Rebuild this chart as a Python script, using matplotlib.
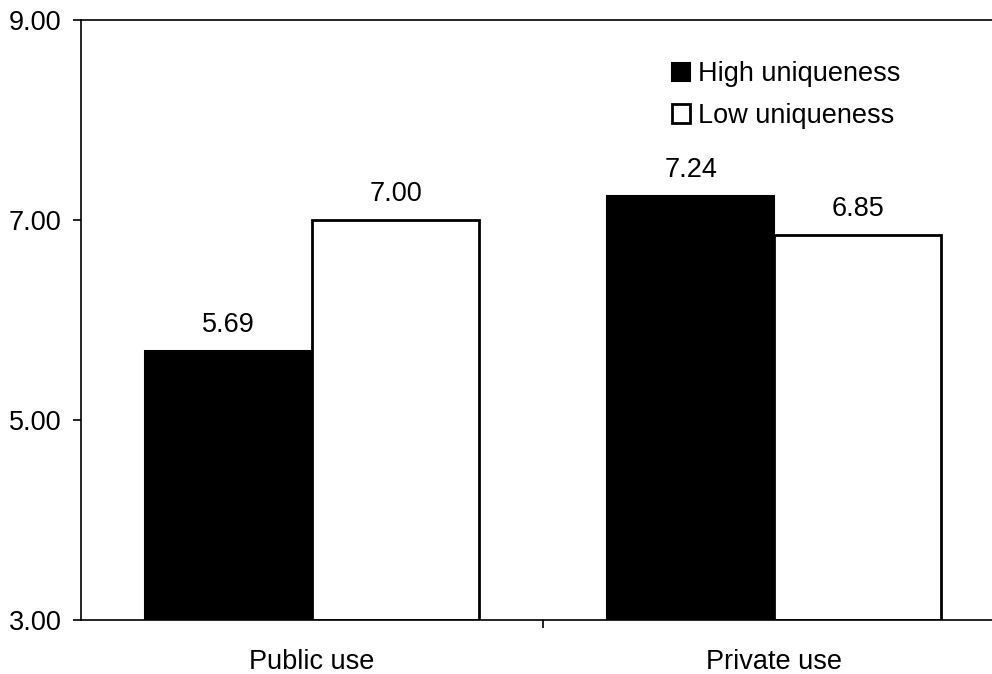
import numpy as np
import matplotlib.pyplot as plt
from matplotlib.ticker import FixedLocator

plt.rcParams['font.family'] = ['Liberation Sans', 'DejaVu Sans']

categories = ['Public use', 'Private use']
high_uniqueness = [5.69, 7.24]
low_uniqueness = [7.00, 6.85]
series_names = ['High uniqueness', 'Low uniqueness']
y_ticks = [3.00, 5.00, 7.00, 9.00]

fs = 19.5

fig = plt.figure(figsize=(9.92, 6.74), dpi=100)
ax = fig.add_axes([0.0817, 0.0801, 0.9315, 0.8902])

x = np.arange(len(categories))
w = 0.3615
b1 = ax.bar(x - w / 2, [v - 3 for v in high_uniqueness], w, bottom=3,
            color='black', edgecolor='black', linewidth=1.5,
            label=series_names[0])
b2 = ax.bar(x + w / 2, [v - 3 for v in low_uniqueness], w, bottom=3,
            color='white', edgecolor='black', linewidth=2,
            label=series_names[1])

# value labels above each bar
for bars, vals in ((b1, high_uniqueness), (b2, low_uniqueness)):
    for r, v in zip(bars, vals):
        ax.annotate(f'{v:.2f}', (r.get_x() + r.get_width() / 2, v),
                    xytext=(0, 9.5), textcoords='offset points',
                    ha='center', va='bottom', fontsize=fs)

ax.set_xlim(-0.5, 1.5)
ax.set_ylim(3, 9)
ax.set_yticks(y_ticks)
ax.set_yticklabels([f'{t:.2f}' for t in y_ticks], fontsize=fs)
ax.set_xticks(x)
ax.set_xticklabels(categories, fontsize=fs)
ax.xaxis.set_minor_locator(FixedLocator([0.5]))
ax.tick_params(axis='x', which='major', length=0, pad=21)
ax.tick_params(axis='x', which='minor', length=6, width=1.2, direction='out')
ax.tick_params(axis='y', length=6, width=1.2, pad=8)

for s in ('left', 'bottom', 'top'):
    ax.spines[s].set_linewidth(1.2)
ax.spines['right'].set_visible(False)

ax.legend(loc='upper left', bbox_to_anchor=(0.664, 0.929),
          bbox_transform=fig.transFigure, frameon=False, fontsize=fs,
          handlelength=0.67, handleheight=0.67, handletextpad=0.28,
          labelspacing=0.57, borderpad=0)

fig.savefig('out.png', dpi=100)
